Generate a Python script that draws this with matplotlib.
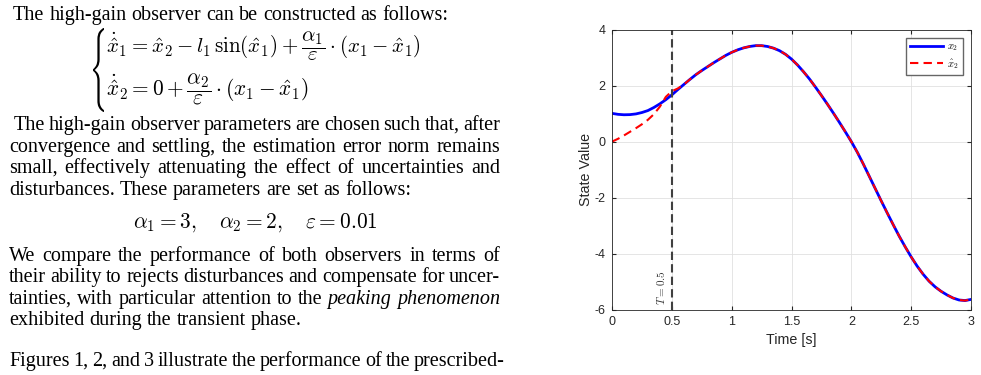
import matplotlib.pyplot as plt
from matplotlib.textpath import TextPath
from matplotlib.patches import PathPatch
from matplotlib.transforms import Affine2D, IdentityTransform

plt.rcParams['mathtext.fontset'] = 'cm'
plt.rcParams['font.family'] = 'Liberation Sans'

# simulation data
t = [0.0, 0.05, 0.1, 0.15, 0.2, 0.25, 0.3, 0.35, 0.4, 0.45, 0.5, 0.55, 0.6, 0.65,
     0.7, 0.75, 0.8, 0.85, 0.9, 0.95, 1.0, 1.05, 1.1, 1.15, 1.2, 1.25, 1.3, 1.35,
     1.4, 1.45, 1.5, 1.55, 1.6, 1.65, 1.7, 1.75, 1.8, 1.85, 1.9, 1.95, 2.0, 2.05,
     2.1, 2.15, 2.2, 2.25, 2.3, 2.35, 2.4, 2.45, 2.5, 2.55, 2.6, 2.65, 2.7, 2.75,
     2.8, 2.85, 2.9, 2.95, 3.0]
x2 = [1.01, 0.975, 0.96, 0.965, 0.99, 1.04, 1.11, 1.22, 1.35, 1.5, 1.67, 1.86, 2.04, 2.22,
      2.39, 2.54, 2.68, 2.82, 2.95, 3.08, 3.19, 3.28, 3.35, 3.4, 3.43, 3.43, 3.4, 3.34,
      3.25, 3.12, 2.95, 2.74, 2.5, 2.24, 1.95, 1.65, 1.34, 1.02, 0.69, 0.35, 0.0, -0.38,
      -0.8, -1.24, -1.68, -2.12, -2.55, -2.97, -3.38, -3.76, -4.12, -4.45, -4.74, -4.99, -5.19, -5.35,
      -5.48, -5.59, -5.66, -5.68, -5.64]
x2_hat = [0.0, 0.1, 0.22, 0.35, 0.48, 0.62, 0.78, 0.98, 1.25, 1.6, 1.8, 1.9, 2.04, 2.22,
          2.39, 2.54, 2.68, 2.82, 2.95, 3.08, 3.19, 3.28, 3.35, 3.4, 3.43, 3.43, 3.4, 3.34,
          3.25, 3.12, 2.95, 2.74, 2.5, 2.24, 1.95, 1.65, 1.34, 1.02, 0.69, 0.35, 0.0, -0.38,
          -0.8, -1.24, -1.68, -2.12, -2.55, -2.97, -3.38, -3.76, -4.12, -4.45, -4.74, -4.99, -5.19, -5.35,
          -5.48, -5.59, -5.66, -5.68, -5.64]
T_switch = 0.5
xticks = [0, 0.5, 1, 1.5, 2, 2.5, 3]
xtick_labels = ['0', '0.5', '1', '1.5', '2', '2.5', '3']
yticks = [-6, -4, -2, 0, 2, 4]
ytick_labels = ['-6', '-4', '-2', '0', '2', '4']

W, H = 981, 375
fig = plt.figure(figsize=(W / 100, H / 100), dpi=100)
renderer = fig.canvas.get_renderer()

SERIF = 'Liberation Serif'
FS = 14.5


def text_line(line, x0, y, x1=None):
    # place words one by one so the line can be justified
    arts = []
    for w in line.split(' '):
        style = 'normal'
        if w.startswith('*'):
            w, style = w[1:], 'italic'
        arts.append(fig.text(0, 1 - y / H, w, fontsize=FS, family=SERIF,
                             style=style, va='baseline'))
    widths = [a.get_window_extent(renderer).width for a in arts]
    gap = 5.0
    if x1 is not None and len(arts) > 1:
        gap = (x1 - x0 - sum(widths)) / (len(arts) - 1)
    x = x0
    for a, w in zip(arts, widths):
        a.set_x(x / W)
        x += w + gap


def math_line(s, x0, x1, y, va='center'):
    # math text scaled so it spans x0..x1
    a = fig.text(x0 / W, 1 - y / H, s, fontsize=15, va=va)
    w = a.get_window_extent(renderer).width
    a.set_fontsize(15 * (x1 - x0) / w)


RIGHT = 500
text_line('The high-gain observer can be constructed as follows:', 13, 20)
text_line('The high-gain observer parameters are chosen such that, after', 14, 130, RIGHT)
text_line('convergence and settling, the estimation error norm remains', 9, 152, RIGHT)
text_line('small, effectively attenuating the effect of uncertainties and', 9, 173, RIGHT)
text_line('disturbances. These parameters are set as follows:', 9, 195)
text_line('We compare the performance of both observers in terms of', 9, 261, RIGHT)
text_line('their ability to rejects disturbances and compensate for uncer-', 9, 282, RIGHT)
text_line('tainties, with particular attention to the *peaking *phenomenon', 9, 304, RIGHT)
text_line('exhibited during the transient phase.', 9, 325)
text_line('Figures 1, 2, and 3 illustrate the performance of the prescribed-', 9, 366, RIGHT + 5)

# observer equations
math_line(r'$\dot{\hat{x}}_1 = \hat{x}_2 - l_1\,\sin(\hat{x}_1) + \dfrac{\alpha_1}{\varepsilon}\cdot(x_1 - \hat{x}_1)$',
          106, 421, 46)
math_line(r'$\dot{\hat{x}}_2 = 0 + \dfrac{\alpha_2}{\varepsilon}\cdot(x_1 - \hat{x}_1)$',
          106, 309, 89)
math_line(r'$\alpha_1 = 3,\quad \alpha_2 = 2,\quad \varepsilon = 0.01$', 133, 378, 228, va='baseline')

# big curly brace
brace = TextPath((0, 0), r'$\{$', size=20)
ext = brace.get_extents()
tr = (Affine2D().translate(-ext.x0, -ext.y0)
      .scale(11 / ext.width, 84 / ext.height).translate(93, H - 112))
fig.add_artist(PathPatch(tr.transform_path(brace), transform=IdentityTransform(),
                         color='black', lw=0))

# chart
ax = fig.add_axes([612 / W, 1 - 309.5 / H, (971 - 612) / W, (309.5 - 29.7) / H])
ax.plot(t, x2, color='b', lw=2, label=r'$x_2$')
ax.plot(t, x2_hat, color='r', lw=1.5, dashes=(4, 2.5), label=r'$\hat{x}_2$')
ax.axvline(T_switch, color='0.25', lw=1.5, ls=(0, (4, 2)))
ax.text(0.41, -5.85, r'$T=0.5$', rotation=90, ha='center', va='bottom',
        fontsize=8, color='0.2')

ax.set_xlim(0, 3)
ax.set_ylim(-6, 4)
ax.set_xticks(xticks, xtick_labels)
ax.set_yticks(yticks, ytick_labels)
ax.grid(True, color='0.88', lw=0.6)
ax.tick_params(direction='in', top=True, right=True, length=3, labelsize=9,
               colors='0.15')
ax.tick_params(axis='x', pad=5)
ax.tick_params(axis='y', pad=4.5)
for s in ax.spines.values():
    s.set_color('0.15')
    s.set_linewidth(0.6)
ax.set_xlabel('Time [s]', fontsize=10.3, color='0.15', labelpad=3)
ax.set_ylabel('State Value', fontsize=10.3, color='0.15', labelpad=1.5)
ax.legend(loc='upper right', fontsize=7.5, handlelength=3.2, handletextpad=0.4,
          labelspacing=0.35, borderpad=0.35, fancybox=False,
          edgecolor='0.4', framealpha=1, borderaxespad=0.8)

fig.savefig('out.png', dpi=100)
